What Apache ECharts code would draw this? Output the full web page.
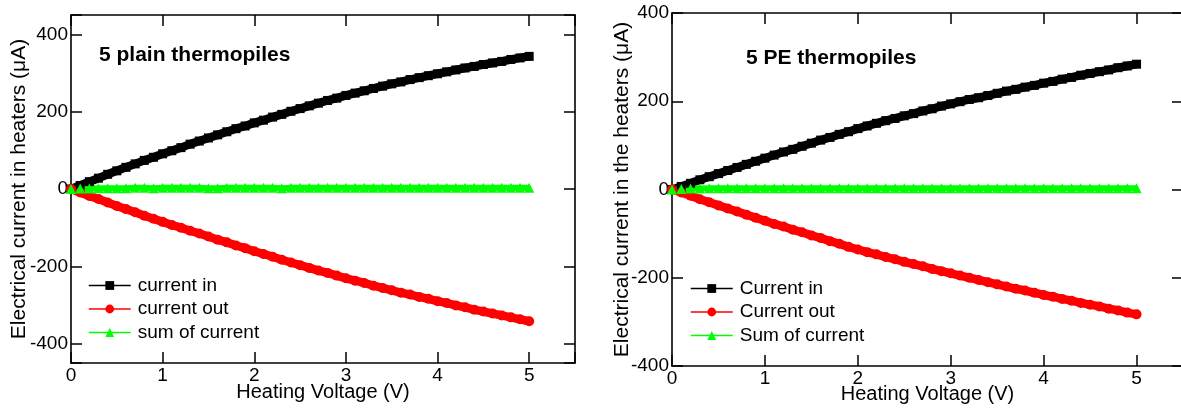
<!DOCTYPE html>
<html>
<head>
<meta charset="utf-8">
<script src="https://cdn.jsdelivr.net/npm/echarts@6/dist/echarts.min.js"></script>
<style>
html,body{margin:0;padding:0;background:#fff;}
#c{width:1181px;height:408px;}
</style>
</head>
<body>
<div id="c"></div>
<script>
// Heating voltage (V)
const volts = [0,0.1,0.2,0.3,0.4,0.5,0.6,0.7,0.8,0.9,
  1.0,1.1,1.2,1.3,1.4,1.5,1.6,1.7,1.8,1.9,
  2.0,2.1,2.2,2.3,2.4,2.5,2.6,2.7,2.8,2.9,
  3.0,3.1,3.2,3.3,3.4,3.5,3.6,3.7,3.8,3.9,
  4.0,4.1,4.2,4.3,4.4,4.5,4.6,4.7,4.8,4.9,
  5.0];

// Left panel: 5 plain thermopiles (µA)
const plainIn = [0,9,19,28,38,47,56,65,74,82,
  91,99,107,116,124,132,140,148,156,163,
  171,178,186,193,201,208,215,222,229,235,
  242,248,254,260,266,272,277,283,288,293,
  298,303,308,313,317,322,326,330,335,339,
  343];
const plainOut = [0,-9,-18,-26,-35,-44,-52,-60,-69,-77,
  -85,-93,-100,-108,-115,-123,-131,-138,-146,-153,
  -161,-168,-175,-183,-190,-197,-204,-211,-217,-224,
  -231,-237,-243,-250,-256,-262,-268,-273,-279,-284,
  -290,-295,-301,-306,-312,-317,-322,-327,-332,-337,
  -342];
const plainSum = [0,1,1,2,2,2,2,3,3,2,
  3,3,3,3,3,2,2,3,3,3,
  3,3,3,2,3,3,3,3,3,3,
  3,3,3,3,3,3,3,3,3,3,
  3,3,3,3,3,3,3,3,3,3,
  3];

// Right panel: 5 PE thermopiles (µA)
const peIn = [0,7,14,22,29,36,43,50,57,64,
  71,78,85,91,98,105,112,118,125,131,
  138,144,150,156,161,167,172,178,183,189,
  194,199,204,208,213,218,223,227,232,236,
  241,245,250,254,259,263,267,271,276,280,
  284];
const peOut = [0,-7,-14,-22,-29,-36,-43,-50,-57,-64,
  -71,-78,-84,-91,-97,-104,-110,-117,-123,-130,
  -136,-142,-147,-153,-158,-164,-169,-174,-180,-185,
  -190,-195,-200,-205,-210,-215,-220,-225,-229,-234,
  -239,-243,-248,-252,-257,-261,-265,-270,-274,-279,
  -283];
const peSum = [0,1,2,2,3,3,3,3,3,3,
  3,3,3,3,3,3,3,3,3,3,
  3,3,3,3,3,3,3,3,3,3,
  3,3,3,3,3,3,3,3,3,3,
  3,3,3,3,3,3,3,3,3,3,
  3];

const leftNames = ['current in', 'current out', 'sum of current'];
const rightNames = ['Current in', 'Current out', 'Sum of current'];
const xTicks = [0, 1, 2, 3, 4, 5];
const leftYTicks = [-400, -200, 0, 200, 400];
const rightYTicks = [-400, -200, 0, 200, 400];
const titles = ['5 plain thermopiles', '5 PE thermopiles'];
const xName = 'Heating Voltage (V)';
const yNames = ['Electrical current in heaters (\u03bcA)', 'Electrical current in the heaters (\u03bcA)'];

const FONT = "'Liberation Sans', Arial, sans-serif";
const pair = arr => volts.map((v, i) => [v, arr[i]]);

function xAxes(gridIndex, nameGap) {
  const base = {
    gridIndex, type: 'value', min: 0, max: 5.5, interval: 1,
    splitLine: { show: false },
    axisLine: { show: true, onZero: false, lineStyle: { color: '#000', width: 1.6 } },
    axisTick: { show: true, inside: true, length: 11, lineStyle: { color: '#000', width: 1.5 } }
  };
  return [
    Object.assign({}, base, {
      position: 'bottom',
      name: xName, nameLocation: 'middle', nameGap: nameGap, nameMoveOverlap: false,
      nameTextStyle: { fontFamily: FONT, fontSize: 20, color: '#000' },
      axisLabel: { fontFamily: FONT, fontSize: 19, color: '#000', margin: 3,
        formatter: v => xTicks.indexOf(v) >= 0 ? String(v) : '' }
    }),
    Object.assign({}, base, { position: 'top', axisLabel: { show: false } })
  ];
}

function yAxes(gridIndex, min, max, ticks, name, nameGap, interval) {
  const base = {
    gridIndex, type: 'value', min, max,
    splitLine: { show: false },
    axisLine: { show: true, onZero: false, lineStyle: { color: '#000', width: 1.6 } },
    axisTick: { show: true, inside: true, length: 11, lineStyle: { color: '#000', width: 1.5 } }
  };
  if (interval) base.interval = interval;
  return [
    Object.assign({}, base, {
      position: 'left',
      name, nameLocation: 'middle', nameGap, nameRotate: 90, nameMoveOverlap: false,
      nameTextStyle: { fontFamily: FONT, fontSize: 21, color: '#000' },
      axisLabel: { fontFamily: FONT, fontSize: 19, color: '#000', margin: 3,
        formatter: v => ticks.indexOf(v) >= 0 ? String(v) : '' }
    }),
    Object.assign({}, base, { position: 'right', axisLabel: { show: false } })
  ];
}

function seriesSet(xi, yi, names, dIn, dOut, dSum) {
  const common = { type: 'line', xAxisIndex: xi, yAxisIndex: yi, showSymbol: true,
    animation: false, clip: false };
  return [
    Object.assign({}, common, { name: names[0], data: pair(dIn), symbol: 'rect', symbolSize: 9,
      itemStyle: { color: '#000' }, lineStyle: { color: '#000', width: 8.5 } }),
    Object.assign({}, common, { name: names[1], data: pair(dOut), symbol: 'circle', symbolSize: 10,
      itemStyle: { color: '#ff0000' }, lineStyle: { color: '#ff0000', width: 8.5 } }),
    Object.assign({}, common, { name: names[2], data: pair(dSum), symbol: 'triangle', symbolSize: 10,
      itemStyle: { color: '#00ff00' }, lineStyle: { color: '#00ff00', width: 6 } })
  ];
}

const legendBase = {
  orient: 'vertical', itemWidth: 42, itemHeight: 11, itemGap: 4.5, padding: 0,
  textStyle: { fontFamily: FONT, fontSize: 19, color: '#000', padding: [0, 0, 0, 2] },
  lineStyle: { width: 1.5 },
  inactiveColor: '#000'
};

const chart = echarts.init(document.getElementById('c'), null, { renderer: 'canvas' });
chart.setOption({
  backgroundColor: '#fff',
  animation: false,
  title: [
    { text: titles[0], left: 99, top: 45, textStyle: { fontFamily: FONT, fontSize: 21, fontWeight: 'bold', color: '#000' }, padding: 0 },
    { text: titles[1], left: 746, top: 48, textStyle: { fontFamily: FONT, fontSize: 21, fontWeight: 'bold', color: '#000' }, padding: 0 }
  ],
  grid: [
    { left: 71, top: 15, width: 504, height: 348, outerBoundsMode: 'none', containLabel: false },
    { left: 672, top: 13, width: 511, height: 353, outerBoundsMode: 'none', containLabel: false }
  ],
  xAxis: [].concat(xAxes(0, 19), xAxes(1, 18)),
  yAxis: [].concat(
    yAxes(0, -450, 450, leftYTicks, yNames[0], 41, null),
    yAxes(1, -400, 400, rightYTicks, yNames[1], 39, 200)
  ),
  legend: [
    Object.assign({}, legendBase, { data: leftNames, left: 88, top: 276 }),
    Object.assign({}, legendBase, { data: rightNames, left: 690, top: 279 })
  ],
  series: [].concat(
    seriesSet(0, 0, leftNames, plainIn, plainOut, plainSum),
    seriesSet(2, 2, rightNames, peIn, peOut, peSum)
  )
});
</script>
</body>
</html>
